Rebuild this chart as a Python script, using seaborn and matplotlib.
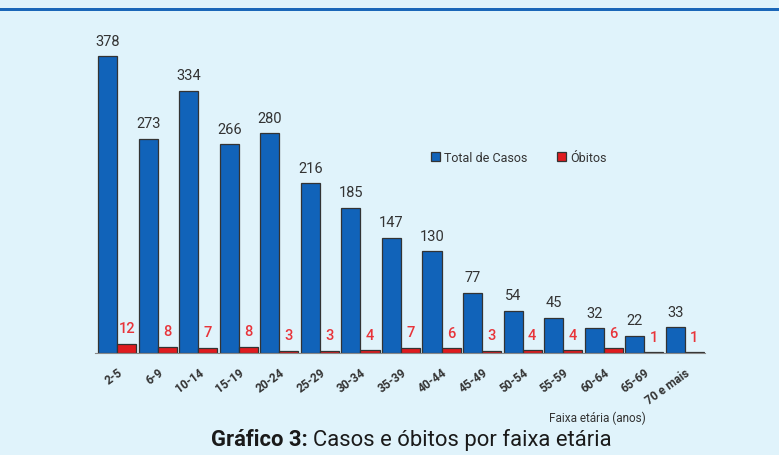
import matplotlib
matplotlib.use("Agg")
import matplotlib.pyplot as plt
import seaborn as sns
import pandas as pd
from matplotlib.patches import Rectangle

faixas = ['2-5', '6-9', '10-14', '15-19', '20-24', '25-29', '30-34', '35-39',
          '40-44', '45-49', '50-54', '55-59', '60-64', '65-69', '70 e mais']
total_casos = [378, 273, 334, 266, 280, 216, 185, 147, 130, 77, 54, 45, 32, 22, 33]
obitos = [12, 8, 7, 8, 3, 3, 4, 7, 6, 3, 4, 4, 6, 1, 1]
series = ['Total de Casos', 'Óbitos']

bg = '#e0f3fb'
blue = '#1163b9'
red = '#e01b1f'

df = pd.DataFrame({
    'faixa': faixas * 2,
    'valor': total_casos + obitos,
    'serie': [series[0]] * len(faixas) + [series[1]] * len(faixas),
})

sns.set_style('white')
plt.rcParams['font.family'] = ['Roboto', 'DejaVu Sans']

fig = plt.figure(figsize=(7.79, 4.56), dpi=100, facecolor=bg)
ax = fig.add_axes([95 / 779, 102 / 456, 610 / 779, 314 / 456])
ax.set_facecolor(bg)

sns.barplot(data=df, x='faixa', y='valor', hue='serie', order=faixas,
            hue_order=series, palette=[blue, red], width=0.94, saturation=1,
            edgecolor='#333333', linewidth=0.9, ax=ax, legend=True)

ax.set_xlim(-0.55, 14.5)
ax.set_ylim(0, 400)
for s in ['top', 'right', 'left']:
    ax.spines[s].set_visible(False)
ax.spines['bottom'].set_color('#888888')
ax.set_yticks([])
ax.set_xlabel('')
ax.set_ylabel('')
ax.tick_params(axis='x', length=0, pad=9)
plt.setp(ax.get_xticklabels(), rotation=36, ha='right', rotation_mode='anchor',
         fontsize=8.5, fontweight='bold', color='#333333')

# value labels
for bar, v in zip(ax.containers[0], total_casos):
    ax.annotate(str(v), (bar.get_x() + bar.get_width() / 2, bar.get_height()),
                xytext=(0, 6), textcoords='offset points', ha='center', va='bottom',
                fontsize=10.5, color='#333333')
for bar, v in zip(ax.containers[1], obitos):
    ax.annotate(str(v), (bar.get_x() + bar.get_width() / 2, bar.get_height()),
                xytext=(0, 6), textcoords='offset points', ha='center', va='bottom',
                fontsize=10.5, fontweight='medium', color='#e8343a')

leg = ax.legend(loc='center left', bbox_to_anchor=(0.533, 0.624), ncol=2,
                frameon=False, fontsize=9, handlelength=0.7, handleheight=0.7,
                handletextpad=0.3, columnspacing=2.4)
for t in leg.get_texts():
    t.set_color('#333333')

fig.text(597 / 779, 1 - 418 / 456, 'Faixa etária (anos)', ha='center', va='center',
         fontsize=8.5, color='#333333')
fig.text(308 / 779, 1 - 440 / 456, 'Gráfico 3:', ha='right', va='center',
         fontsize=15.8, fontweight='bold', color='#1a1a1a')
fig.text(313 / 779, 1 - 440 / 456, 'Casos e óbitos por faixa etária', ha='left',
         va='center', fontsize=15.8, color='#1a1a1a')

fig.patches.append(Rectangle((0, 1 - 12 / 456), 1, 3 / 456, transform=fig.transFigure,
                             facecolor='#1a66b8', edgecolor='none'))

fig.savefig('out.png', dpi=100, facecolor=bg)
